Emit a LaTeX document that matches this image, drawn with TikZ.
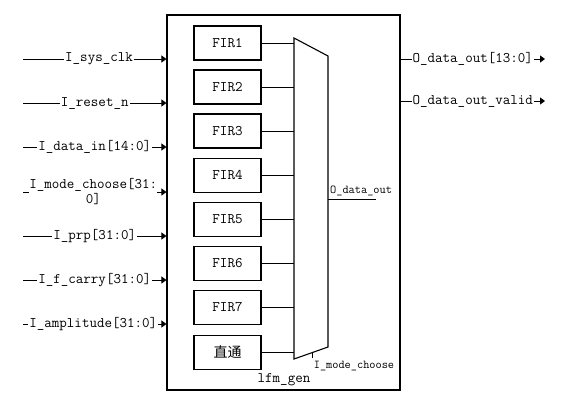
\documentclass[tikz,border=0pt]{standalone}
\usepackage{fontspec}
\newfontfamily\cjk{Noto Sans CJK SC}
\usetikzlibrary{arrows.meta}
\begin{document}
\begin{tikzpicture}[x=1pt,y=-1pt,
  every node/.style={font=\ttfamily\fontsize{14.6}{15}\selectfont},
  firbox/.style={draw,line width=1.1pt,minimum width=67pt,minimum height=34pt,inner sep=0pt},
  wire/.style={line width=1pt},
  sig/.style={line width=1pt,-{Triangle[length=5pt,width=7pt]}},
  lbl/.style={fill=white,inner sep=1pt},
  small/.style={font=\ttfamily\fontsize{12}{12}\selectfont}]
\useasboundingbox (0,0) rectangle (569,400);
\node[draw,line width=1.1pt,minimum width=233pt,minimum height=375pt,inner sep=0pt] (top) at (283.5,202.5) {};
% FIR boxes
\foreach \i/\t/\y in {1/FIR1/43,2/FIR2/87,3/FIR3/131,4/FIR4/175.5,5/FIR5/219.5,6/FIR6/263.5,7/FIR7/307.5}
  \node[firbox] (f\i) at (227.5,\y) {\t};
\node[firbox,font=\cjk\fontsize{14}{15}\selectfont] (f8) at (227.5,352.5) {直通};
% mux
\coordinate (mtl) at (294,38);
\coordinate (mtr) at (328,56);
\coordinate (mbr) at (328,347);
\coordinate (mbl) at (294,359);
\draw[line width=1.1pt] (mtl) -- (mtr) -- (mbr) -- (mbl) -- cycle;
\foreach \i in {1,...,8}
  \draw[wire] (f\i.east) -- (f\i.east -| mtl);
% mux output
\coordinate (mo) at (328,199);
\coordinate (moe) at (376,199);
\draw[wire] (mo) -- (moe);
\node[small,anchor=south west,inner sep=1pt] (molbl) at (329,197) {O\_data\_out};
% select
\coordinate (ms) at (312,352.6);
\coordinate (mse) at (312,358);
\draw[wire] (ms) -- (mse);
\node[small,lbl] (mslbl) at (354,366) {I\_mode\_choose};
\node (name) at (284,380) {lfm\_gen};
% inputs
\foreach \n/\y/\t/\p in {a/59/I\_sys\_clk/0.53,b/103/I\_reset\_n/0.5,c/147/I\_data\_in[14:0]/0.5,e/236/I\_prp[31:0]/0.5,f/280/I\_f\_carry[31:0]/0.5,g/324/I\_amplitude[31:0]/0.49}{
  \coordinate (i\n) at (23,\y);
  \draw[sig] (i\n) -- node[lbl,pos=\p] {\t} (i\n -| top.west);
}
\coordinate (id) at (23,192);
\draw[sig] (id) -- node[lbl,pos=0.49,align=center,inner sep=0pt] {I\_mode\_choose[31:\\0]} (id -| top.west);
% outputs
\coordinate (oa) at (545,59);
\coordinate (ob) at (545,101);
\draw[sig] (oa -| top.east) -- node[lbl,pos=0.5] {O\_data\_out[13:0]} (oa);
\draw[sig] (ob -| top.east) -- node[lbl,pos=0.5] {O\_data\_out\_valid} (ob);
\end{tikzpicture}
\end{document}
